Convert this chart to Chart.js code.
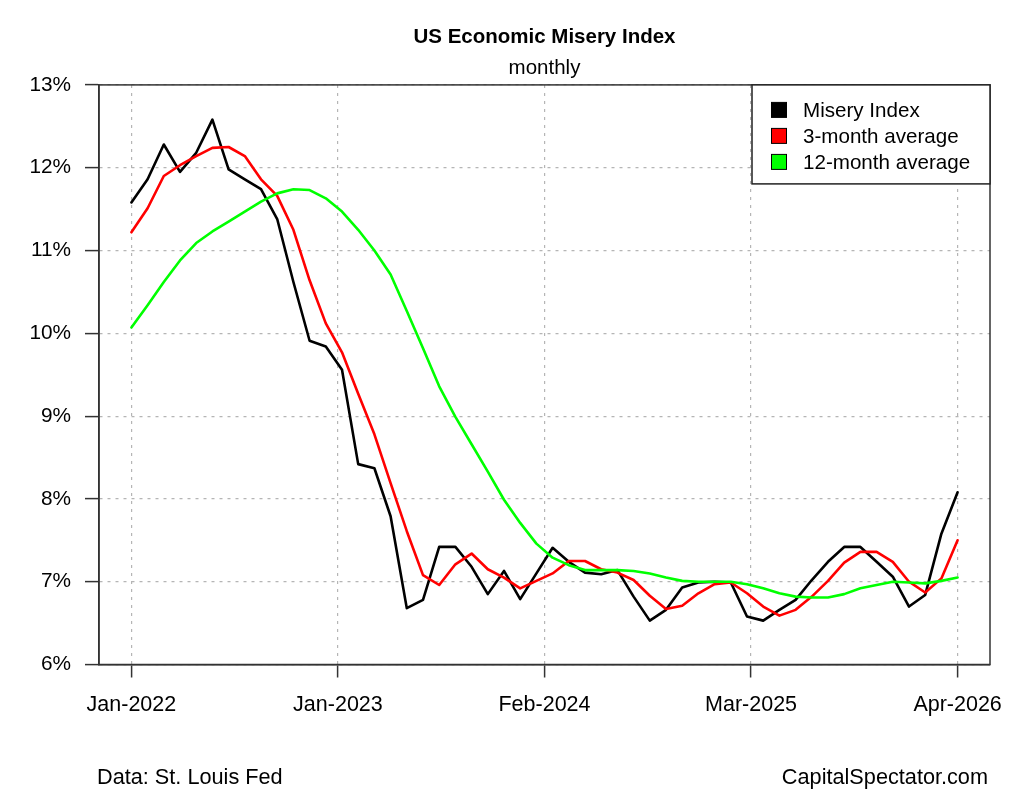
<!DOCTYPE html>
<html lang="en">
<head>
<meta charset="UTF-8">
<title>US Economic Misery Index</title>
<script src="https://cdn.jsdelivr.net/npm/chart.js"></script>
<style>
    html, body { margin: 0; padding: 0; background: #fff; }
    #chart { display: block; }
</style>
</head>
<body>
<canvas id="chart" width="1024" height="801"></canvas>
<script>
    // monthly observations, Jan-2022 .. Apr-2026
    const months = [
        'Jan-2022', 'Feb-2022', 'Mar-2022', 'Apr-2022', 'May-2022', 'Jun-2022',
        'Jul-2022', 'Aug-2022', 'Sep-2022', 'Oct-2022', 'Nov-2022', 'Dec-2022',
        'Jan-2023', 'Feb-2023', 'Mar-2023', 'Apr-2023', 'May-2023', 'Jun-2023',
        'Jul-2023', 'Aug-2023', 'Sep-2023', 'Oct-2023', 'Nov-2023', 'Dec-2023',
        'Jan-2024', 'Feb-2024', 'Mar-2024', 'Apr-2024', 'May-2024', 'Jun-2024',
        'Jul-2024', 'Aug-2024', 'Sep-2024', 'Oct-2024', 'Nov-2024', 'Dec-2024',
        'Jan-2025', 'Feb-2025', 'Mar-2025', 'Apr-2025', 'May-2025', 'Jun-2025',
        'Jul-2025', 'Aug-2025', 'Sep-2025', 'Oct-2025', 'Nov-2025', 'Dec-2025',
        'Jan-2026', 'Feb-2026', 'Mar-2026', 'Apr-2026'
    ];

    const misery = [
        11.58, 11.86, 12.28, 11.95, 12.18, 12.58, 11.98, 11.86, 11.74, 11.38, 10.62, 9.91,
        9.84, 9.56, 8.42, 8.37, 7.79, 6.68, 6.78, 7.42, 7.42, 7.18, 6.85, 7.13,
        6.79, 7.10, 7.41, 7.24, 7.11, 7.09, 7.14, 6.82, 6.53, 6.66, 6.93, 6.99,
        7.00, 6.99, 6.58, 6.53, 6.66, 6.78, 7.02, 7.24, 7.42, 7.42, 7.24, 7.06,
        6.70, 6.84, 7.58, 8.08
    ];

    const avg3 = [
        11.22, 11.51, 11.90, 12.03, 12.14, 12.24, 12.25, 12.14, 11.86, 11.66, 11.25, 10.64,
        10.12, 9.77, 9.27, 8.78, 8.19, 7.61, 7.08, 6.96, 7.21, 7.34, 7.15, 7.05,
        6.92, 7.01, 7.10, 7.25, 7.25, 7.15, 7.11, 7.02, 6.83, 6.67, 6.71, 6.86,
        6.97, 6.99, 6.86, 6.70, 6.59, 6.66, 6.82, 7.01, 7.23, 7.36, 7.36, 7.24,
        7.00, 6.87, 7.04, 7.50
    ];

    const avg12 = [
        10.07, 10.34, 10.62, 10.88, 11.09, 11.23, 11.35, 11.47, 11.59, 11.69, 11.74, 11.73,
        11.63, 11.47, 11.25, 11.00, 10.71, 10.27, 9.82, 9.36, 8.99, 8.66, 8.33, 7.99,
        7.71, 7.46, 7.29, 7.20, 7.14, 7.14, 7.14, 7.13, 7.10, 7.05, 7.01, 7.00,
        7.00, 7.00, 6.97, 6.92, 6.86, 6.82, 6.81, 6.81, 6.85, 6.92, 6.96, 7.00,
        6.99, 6.98, 7.01, 7.05
    ];

    const xTickCount = 5;
    const FONT = '"Liberation Sans", Arial, Helvetica, sans-serif';

    function toPoints(values) {
        return values.map((v, i) => ({ x: i, y: v }));
    }

    function lineSet(label, values, color, order) {
        return {
            label: label,
            data: toPoints(values),
            borderColor: color,
            backgroundColor: color,
            borderWidth: 2.6,
            pointRadius: 0,
            tension: 0,
            borderJoinStyle: 'round',
            borderCapStyle: 'round',
            order: order
        };
    }

    // box, titles, footer and legend drawn like the R base plot
    const decorations = {
        id: 'decorations',
        afterDraw(chart) {
            const ctx = chart.ctx;
            const a = chart.chartArea;
            ctx.save();

            ctx.strokeStyle = '#333';
            ctx.lineWidth = 1.5;
            ctx.strokeRect(a.left, a.top, a.right - a.left, a.bottom - a.top);

            const cx = (a.left + a.right) / 2;
            ctx.fillStyle = '#000';
            ctx.textAlign = 'center';
            ctx.textBaseline = 'middle';
            ctx.font = 'bold 20.5px ' + FONT;
            ctx.fillText('US Economic Misery Index', cx, 37);
            ctx.font = '20.5px ' + FONT;
            ctx.fillText('monthly', cx, 68);

            ctx.font = '21.7px ' + FONT;
            ctx.textAlign = 'left';
            ctx.fillText('Data: St. Louis Fed', 97, 778);
            ctx.textAlign = 'right';
            ctx.fillText('CapitalSpectator.com', 988, 778);

            // legend in the top right corner of the plot
            const w = 238, h = 99;
            const lx = a.right - w, ly = a.top;
            ctx.fillStyle = '#fff';
            ctx.fillRect(lx, ly, w, h);
            ctx.strokeStyle = '#222';
            ctx.lineWidth = 1.5;
            ctx.strokeRect(lx, ly, w, h);
            ctx.font = '20.6px ' + FONT;
            ctx.textAlign = 'left';
            chart.data.datasets.forEach((ds, k) => {
                const cy = ly + 25 + k * 26;
                ctx.fillStyle = ds.borderColor;
                ctx.fillRect(lx + 19.5, cy - 7.5, 15, 15);
                ctx.strokeStyle = '#000';
                ctx.lineWidth = 1;
                ctx.strokeRect(lx + 19.5, cy - 7.5, 15, 15);
                ctx.fillStyle = '#000';
                ctx.fillText(ds.label, lx + 51, cy + 1);
            });

            ctx.restore();
        }
    };

    const chart = new Chart(document.getElementById('chart').getContext('2d'), {
        type: 'line',
        data: {
            datasets: [
                lineSet('Misery Index', misery, '#000000', 2),
                lineSet('3-month average', avg3, '#ff0000', 1),
                lineSet('12-month average', avg12, '#00ff00', 0)
            ]
        },
        options: {
            responsive: false,
            animation: false,
            layout: { padding: { top: 84.9, right: 34, bottom: 0, left: 0 } },
            plugins: {
                legend: { display: false },
                tooltip: { enabled: false }
            },
            scales: {
                x: {
                    type: 'linear',
                    min: -2,
                    max: 53,
                    afterBuildTicks: (scale) => {
                        const n = months.length;
                        scale.ticks = Array.from({ length: xTickCount },
                            (_, k) => ({ value: k * (n - 1) / (xTickCount - 1) }));
                    },
                    afterFit: (scale) => {
                        scale.height = 136.5;
                        scale.paddingLeft = 0;
                        scale.paddingRight = 0;
                    },
                    ticks: {
                        autoSkip: false,
                        maxRotation: 0,
                        padding: 15,
                        color: '#000',
                        font: { family: FONT, size: 21.5 },
                        callback: (v) => months[Math.floor(v + 1e-9)]
                    },
                    grid: {
                        color: '#b5b5b5',
                        lineWidth: 1.2,
                        tickColor: '#333',
                        tickLength: 13,
                        tickWidth: 1.5
                    },
                    border: { display: true, color: '#333', width: 1.5, dash: [3, 5] }
                },
                y: {
                    min: 6,
                    max: 13,
                    afterFit: (scale) => {
                        scale.width = 99;
                        scale.paddingTop = 0;
                        scale.paddingBottom = 0;
                    },
                    ticks: {
                        stepSize: 1,
                        padding: 14,
                        color: '#000',
                        font: { family: FONT, size: 20.8 },
                        callback: (v) => v + '%'
                    },
                    grid: {
                        color: '#b5b5b5',
                        lineWidth: 1.2,
                        tickColor: '#333',
                        tickLength: 14,
                        tickWidth: 1.5
                    },
                    border: { display: true, color: '#333', width: 1.5, dash: [3, 5] }
                }
            }
        },
        plugins: [decorations]
    });
</script>
</body>
</html>
